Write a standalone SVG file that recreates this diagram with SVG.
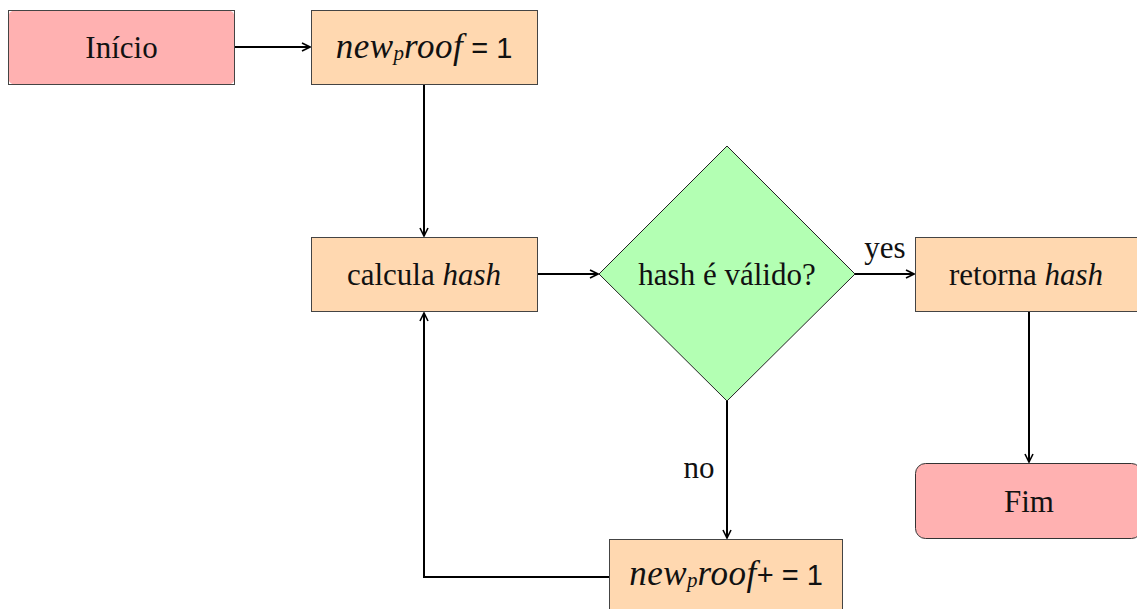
<svg xmlns="http://www.w3.org/2000/svg" width="1137" height="609" viewBox="0 0 1137 609">
  <style>
    text { font-family: "Liberation Serif", "DejaVu Serif", serif; font-size: 31px; fill: #111; }
    .it { font-style: italic; }
    .math { font-style: italic; font-size: 35px; letter-spacing: 0.5px; }
    .sub { font-size: 21px; font-style: italic; }
    .num { font-family: "Liberation Sans", "DejaVu Sans", sans-serif; font-size: 29px; }
    .term { fill: #ffb1b1; }
    .proc { fill: #ffd8b0; stroke: #444; stroke-width: 1; }
    .dec { fill: #b3ffb3; stroke: #222; stroke-width: 1; }
    .edge { fill: none; stroke: #000; stroke-width: 2; }
  </style>
  <defs>
    <marker id="arr" viewBox="0 0 10 10" refX="9" refY="5" markerWidth="10" markerHeight="10" markerUnits="userSpaceOnUse" orient="auto">
      <path d="M1,1 L9,5 L1,9" fill="none" stroke="#000" stroke-width="1.6" stroke-linejoin="miter"/>
    </marker>
  </defs>

  <rect width="1137" height="609" fill="#fff"/>

  <!-- connectors -->
  <g id="edges">
    <line class="edge" x1="235" y1="47" x2="310" y2="47" marker-end="url(#arr)"/>
    <line class="edge" x1="424" y1="85" x2="424" y2="236" marker-end="url(#arr)"/>
    <line class="edge" x1="537" y1="274" x2="598" y2="274" marker-end="url(#arr)"/>
    <line class="edge" x1="855" y1="274" x2="914" y2="274" marker-end="url(#arr)"/>
    <line class="edge" x1="727" y1="401" x2="727" y2="538" marker-end="url(#arr)"/>
    <polyline class="edge" points="609,577 424,577 424,313" marker-end="url(#arr)"/>
    <line class="edge" x1="1029" y1="312" x2="1029" y2="462" marker-end="url(#arr)"/>
    <text x="885" y="258" text-anchor="middle">yes</text>
    <text x="699" y="478" text-anchor="middle">no</text>
  </g>

  <!-- start -->
  <g id="inicio">
    <rect class="term" x="8.5" y="10.5" width="226" height="74" rx="6"/>
    <rect x="8.5" y="10.5" width="226" height="74" fill="none" stroke="#444" stroke-width="1"/>
    <text x="121.5" y="58" text-anchor="middle">Início</text>
  </g>

  <!-- init counter -->
  <g id="init">
    <rect class="proc" x="311.5" y="10.5" width="226" height="74"/>
    <text x="424" y="58" text-anchor="middle"><tspan class="math">new</tspan><tspan class="sub" dy="2">p</tspan><tspan class="math" dy="-2">roof</tspan><tspan class="num"> = 1</tspan></text>
  </g>

  <!-- compute hash -->
  <g id="calc">
    <rect class="proc" x="311.5" y="237.5" width="226" height="74"/>
    <text x="424" y="285" text-anchor="middle">calcula <tspan class="it">hash</tspan></text>
  </g>

  <!-- validity check -->
  <g id="check">
    <polygon class="dec" points="727,146 855,274 727,401 599,274"/>
    <text x="727" y="285" text-anchor="middle">hash é válido?</text>
  </g>

  <!-- return -->
  <g id="ret">
    <rect class="proc" x="915.5" y="237.5" width="226" height="74"/>
    <text x="1026" y="285" text-anchor="middle">retorna <tspan class="it">hash</tspan></text>
  </g>

  <!-- end -->
  <g id="fim">
    <rect class="term" x="915.5" y="463.5" width="226" height="75" rx="10" stroke="#333" stroke-width="1"/>
    <text x="1029" y="512" text-anchor="middle">Fim</text>
  </g>

  <!-- increment -->
  <g id="incr">
    <rect class="proc" x="609.5" y="539.5" width="233" height="74"/>
    <text x="726" y="585" text-anchor="middle"><tspan class="math">new</tspan><tspan class="sub" dy="2">p</tspan><tspan class="math" dy="-2">roof</tspan><tspan class="num">+ = 1</tspan></text>
  </g>
</svg>
